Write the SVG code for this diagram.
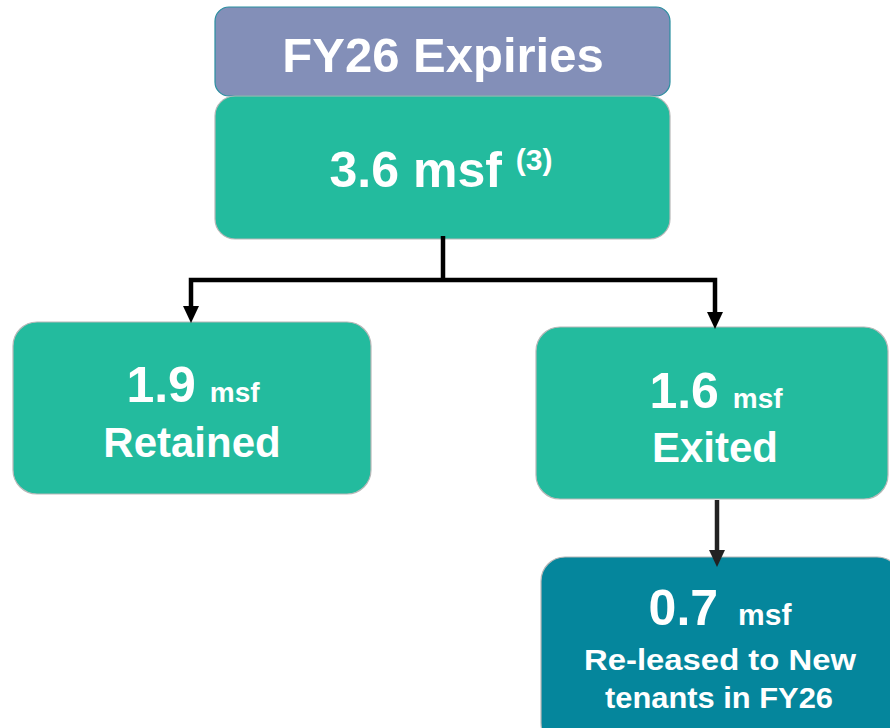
<svg xmlns="http://www.w3.org/2000/svg" width="890" height="728" viewBox="0 0 890 728">
<style>
.t{font-family:"Liberation Sans",Arial,sans-serif;font-weight:bold;fill:#ffffff;text-anchor:middle}
.g{fill:#23BB9E;stroke:#B8B8B8;stroke-width:1.2}
.ln{fill:none;stroke:#000;stroke-width:4.5}
</style>
<g id="header">
<rect x="215" y="7" width="455" height="89" rx="14" fill="#838FB8" stroke="#2A8FA0" stroke-width="1.2"/>
<text class="t" x="443" y="72" font-size="49">FY26 Expiries</text>
</g>
<g id="total">
<rect class="g" x="215" y="96" width="455" height="143" rx="20"/>
<text class="t" x="441" y="187" font-size="50">3.6 msf <tspan font-size="30" dy="-17">(3)</tspan></text>
</g>
<g id="retained">
<rect class="g" x="13" y="322" width="358" height="172" rx="24"/>
<text class="t" x="193" y="402" font-size="50">1.9 <tspan font-size="28">msf</tspan></text>
<text class="t" x="192" y="457" font-size="42">Retained</text>
</g>
<g id="exited">
<rect class="g" x="536" y="327" width="352" height="172" rx="24"/>
<text class="t" x="716" y="408" font-size="50">1.6 <tspan font-size="28">msf</tspan></text>
<text class="t" x="715" y="462" font-size="42">Exited</text>
</g>
<g id="released">
<rect x="541" y="557" width="360" height="190" rx="24" fill="#05869C" stroke="#B8B8B8" stroke-width="1.2"/>
<text class="t" x="720" y="625" font-size="50">0.7 <tspan font-size="30" dx="6">msf</tspan></text>
<text class="t" x="720" y="670" font-size="30" textLength="272" lengthAdjust="spacingAndGlyphs">Re-leased to New</text>
<text class="t" x="719" y="708" font-size="30" textLength="228" lengthAdjust="spacingAndGlyphs">tenants in FY26</text>
</g>
<g id="connectors">
<path class="ln" d="M443,236 V280"/>
<path class="ln" d="M443,280 H191 V306"/>
<path class="ln" d="M443,280 H715 V312"/>
<polygon points="183,306 199,306 191,323" fill="#000"/>
<polygon points="707,312 723,312 715,329" fill="#000"/>
<path d="M717,500 V551" stroke="#222" stroke-width="4.5" fill="none"/>
<polygon points="709,550 725,550 717,567" fill="#222"/>
</g>
</svg>
